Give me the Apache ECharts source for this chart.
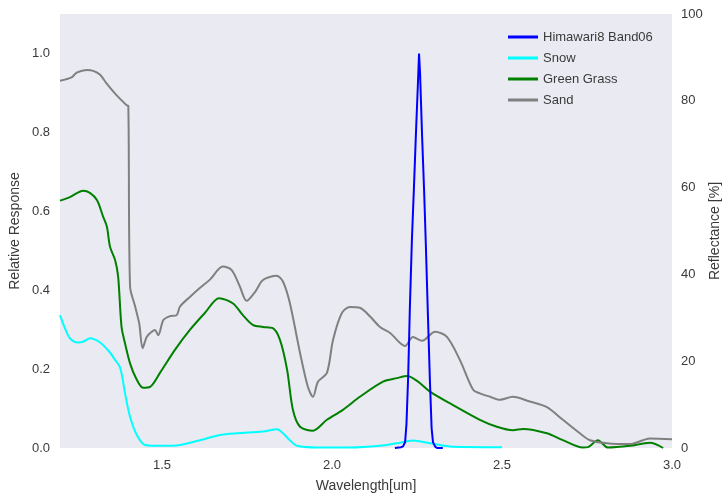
<!DOCTYPE html>
<html>
<head>
<meta charset="utf-8">
<script src="https://cdn.jsdelivr.net/npm/echarts@6/dist/echarts.min.js"></script>
<style>html,body{margin:0;padding:0;background:#fff}#c{width:723px;height:495px}</style>
</head>
<body>
<div id="c"></div>
<script>
// Himawari8 Band06 relative response (left axis)
var bandWl = [2.185,2.203,2.209,2.215,2.219,2.224,2.229,2.235,2.241,2.247,2.253,2.256,2.259,2.265,2.271,2.276,2.282,2.288,2.293,2.297,2.303,2.309,2.326];
var bandResp = [0,0.002,0.004,0.015,0.06,0.18,0.355,0.527,0.66,0.80,0.93,1.0,0.95,0.79,0.65,0.515,0.34,0.17,0.05,0.015,0.004,0,0];

// Snow reflectance [%] (right axis)
var snowWl = [1.200,1.215,1.229,1.253,1.271,1.288,1.318,1.347,1.362,1.376,1.385,1.391,1.406,1.426,1.450,1.494,1.553,1.612,1.671,1.721,1.797,1.838,1.856,1.876,1.897,1.956,2.053,2.141,2.191,2.238,2.288,2.356,2.500];
var snowRefl = [30.6,27.5,25.3,24.3,24.6,25.3,24.3,22.0,20.3,18.7,15.5,12.7,7.2,3.0,0.7,0.5,0.7,1.8,3.0,3.4,3.8,4.3,3.4,1.8,0.5,0.1,0.1,0.5,1.1,1.7,1.1,0.3,0.2];

// Green grass reflectance [%]
var grassWl = [1.200,1.229,1.268,1.288,1.309,1.326,1.338,1.347,1.362,1.371,1.381,1.391,1.406,1.424,1.444,1.465,1.494,1.538,1.582,1.626,1.668,1.709,1.738,1.768,1.797,1.826,1.847,1.868,1.885,1.906,1.944,1.985,2.032,2.082,2.150,2.191,2.221,2.253,2.288,2.356,2.435,2.485,2.532,2.562,2.632,2.679,2.738,2.753,2.782,2.812,2.876,2.935,2.974];
var grassRefl = [57.0,57.8,59.3,58.8,57.1,53.5,51.0,46.4,43.3,39.5,27.9,24.2,19.5,16.0,13.9,14.1,17.3,22.6,27.2,31.1,34.5,33.3,30.6,28.3,27.9,27.6,24.9,18.0,8.8,4.9,4.0,6.5,8.8,11.8,15.3,16.1,16.6,15.3,13.0,9.9,6.5,4.9,4.1,4.4,3.4,1.8,0.1,0.2,1.8,0.1,0.5,1.2,0.0];

// Sand reflectance [%]
var sandWl = [1.200,1.234,1.249,1.279,1.298,1.318,1.337,1.357,1.371,1.396,1.401,1.406,1.421,1.433,1.443,1.455,1.470,1.479,1.489,1.504,1.524,1.543,1.553,1.582,1.612,1.641,1.679,1.705,1.729,1.749,1.774,1.797,1.837,1.856,1.876,1.906,1.929,1.944,1.959,1.985,2.003,2.029,2.053,2.082,2.112,2.141,2.171,2.215,2.238,2.265,2.303,2.338,2.376,2.415,2.435,2.465,2.494,2.532,2.582,2.632,2.679,2.729,2.759,2.809,2.876,2.915,2.935,3.000];
var sandRefl = [84.6,85.4,86.5,87.1,86.9,86.0,84.0,82.1,80.9,79.0,78.8,37.2,32.6,28.7,23.0,25.6,26.8,27.2,26.0,29.5,30.4,30.6,32.6,34.8,36.9,38.8,41.8,41.0,37.2,33.9,36.0,38.7,39.7,38.3,33.4,21.9,14.1,11.8,15.3,17.3,24.9,31.1,32.5,32.3,30.3,27.9,26.5,23.5,25.6,24.7,26.8,25.6,20.3,13.4,12.6,11.8,11.1,11.8,10.7,9.4,6.5,3.4,1.8,1.1,0.9,1.8,2.2,2.0];

var xTicks = [1.5, 2.0, 2.5, 3.0];
var leftTicks = [0, 0.2, 0.4, 0.6, 0.8, 1.0];
var rightTicks = [0, 20, 40, 60, 80, 100];

function zip(a, b) { return a.map(function (v, i) { return [v, b[i]]; }); }

var FONT = 'Liberation Sans, Arial, sans-serif';
var TXT = '#3a3a3a';

var chart = echarts.init(document.getElementById('c'), null, {renderer: 'canvas'});
chart.setOption({
  animation: false,
  backgroundColor: '#ffffff',
  textStyle: {fontFamily: FONT},
  grid: {left: 60, right: 51, top: 14, bottom: 47, show: true, backgroundColor: '#EAEAF2', borderWidth: 0,
    containLabel: false, outerBoundsMode: 'none'},
  legend: {
    orient: 'vertical', left: 503, top: 24, itemWidth: 30, itemHeight: 3, itemGap: 5,
    icon: 'rect',
    textStyle: {fontFamily: FONT, fontSize: 13, color: TXT, lineHeight: 16},
    data: ['Himawari8 Band06', 'Snow', 'Green Grass', 'Sand']
  },
  xAxis: {
    type: 'value', min: 1.2, max: 3.0,
    name: 'Wavelength[um]', nameLocation: 'middle', nameGap: 31, nameMoveOverlap: false,
    nameTextStyle: {fontFamily: FONT, fontSize: 14, color: TXT},
    axisLine: {show: false}, axisTick: {show: false}, splitLine: {show: false},
    axisLabel: {customValues: xTicks, fontFamily: FONT, fontSize: 13, color: TXT, margin: 11,
      formatter: function (v) { return v.toFixed(1); }}
  },
  yAxis: [{
    type: 'value', min: 0, max: 1.1, position: 'left',
    name: 'Relative Response', nameLocation: 'middle', nameGap: 38, nameMoveOverlap: false,
    nameTextStyle: {fontFamily: FONT, fontSize: 14, color: TXT},
    axisLine: {show: false}, axisTick: {show: false}, splitLine: {show: false},
    axisLabel: {customValues: leftTicks, fontFamily: FONT, fontSize: 13, color: TXT, margin: 10,
      formatter: function (v) { return v.toFixed(1); }}
  }, {
    type: 'value', min: 0, max: 100, position: 'right',
    name: 'Reflectance [%]', nameLocation: 'middle', nameGap: 36, nameRotate: 90, nameMoveOverlap: false,
    nameTextStyle: {fontFamily: FONT, fontSize: 14, color: TXT},
    axisLine: {show: false}, axisTick: {show: false}, splitLine: {show: false},
    axisLabel: {customValues: rightTicks, fontFamily: FONT, fontSize: 13, color: TXT, margin: 9,
      formatter: function (v) { return String(v); }}
  }],
  series: [
    {name: 'Snow', type: 'line', yAxisIndex: 1, data: zip(snowWl, snowRefl), symbol: 'none',
      smooth: 0.3, lineStyle: {color: '#00FFFF', width: 2}, itemStyle: {color: '#00FFFF'}, z: 2},
    {name: 'Green Grass', type: 'line', yAxisIndex: 1, data: zip(grassWl, grassRefl), symbol: 'none',
      smooth: 0.3, lineStyle: {color: '#008000', width: 2}, itemStyle: {color: '#008000'}, z: 3},
    {name: 'Sand', type: 'line', yAxisIndex: 1, data: zip(sandWl, sandRefl), symbol: 'none',
      smooth: 0.3, lineStyle: {color: '#808080', width: 2}, itemStyle: {color: '#808080'}, z: 4},
    {name: 'Himawari8 Band06', type: 'line', yAxisIndex: 0, data: zip(bandWl, bandResp), symbol: 'none',
      lineStyle: {color: '#0000FF', width: 2}, itemStyle: {color: '#0000FF'}, z: 5}
  ]
});
</script>
</body>
</html>
